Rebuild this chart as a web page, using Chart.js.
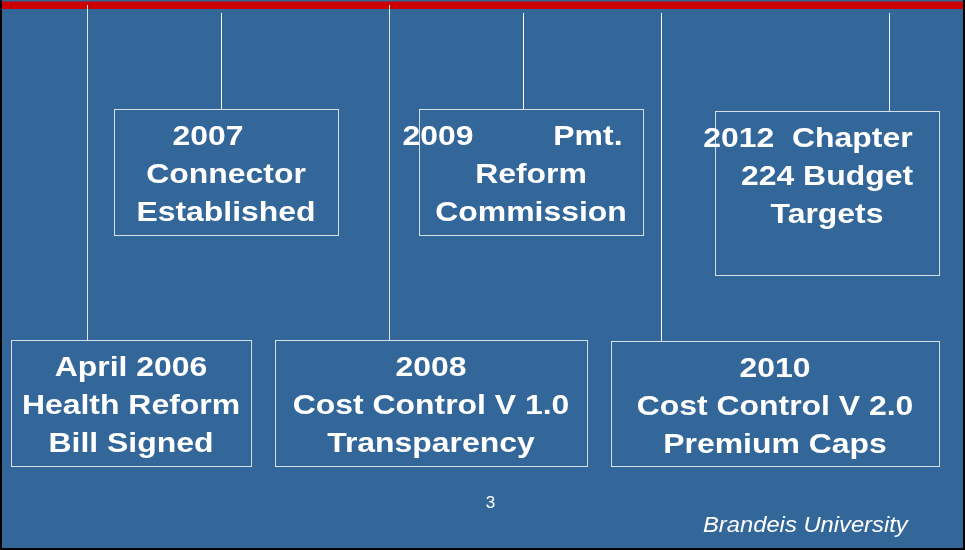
<!DOCTYPE html>
<html>
<head>
<meta charset="utf-8">
<script src="https://cdn.jsdelivr.net/npm/chart.js@4.4.1/dist/chart.umd.min.js"></script>
<style>
  html, body { margin: 0; padding: 0; background: #000; }
  #wrap { width: 965px; height: 550px; }
</style>
</head>
<body>
<div id="wrap"><canvas id="slide" width="965" height="550"></canvas></div>
<script>
// Timeline events (text of each box)
const years = ['April 2006', '2007', '2008', '2009', '2010', '2012'];
const firstLines = ['April 2006', '2007', '2008', '2009         Pmt.', '2010', '2012  Chapter'];
const secondLines = ['Health Reform', 'Connector', 'Cost Control V 1.0', 'Reform', 'Cost Control V 2.0', '224 Budget'];
const thirdLines = ['Bill Signed', 'Established', 'Transparency', 'Commission', 'Premium Caps', 'Targets'];
const pageNumber = '3';
const footer = 'Brandeis University';

// layout of the slide, in scale units (1 unit = 1 px)
const boxes = [
  { x0: 11,  x1: 251, y0: 340, y1: 466, stem: 87,  stemTop: 5,  shift: 0 },
  { x0: 114, x1: 338, y0: 109, y1: 235, stem: 221, stemTop: 13, shift: -18 },
  { x0: 275, x1: 587, y0: 340, y1: 466, stem: 389, stemTop: 5,  shift: 0 },
  { x0: 419, x1: 643, y0: 109, y1: 235, stem: 523, stemTop: 13, shift: -18.5 },
  { x0: 611, x1: 939, y0: 341, y1: 466, stem: 661, stemTop: 13, shift: 0 },
  { x0: 715, x1: 939, y0: 111, y1: 275, stem: 889, stemTop: 13, shift: -19 },
];
const stemColors = ['#dde4ec', '#ffffff', '#dde4ec', '#ffffff', '#ffffff', 'rgba(255,255,255,0.6)'];

const BLUE = '#336699';
const RED = '#cc0000';
const FONT = '"Liberation Sans", Arial, sans-serif';

function stretchedText(ctx, str, cx, base, size, style, stretch, align) {
  ctx.save();
  ctx.translate(cx, base);
  ctx.scale(stretch, 1);
  ctx.font = `${style} ${size}px ${FONT}`;
  ctx.textAlign = align || 'center';
  ctx.textBaseline = 'alphabetic';
  ctx.fillStyle = '#ffffff';
  ctx.fillText(str, 0, 0);
  ctx.restore();
}

const slidePlugin = {
  id: 'slide',
  beforeDraw(chart) {
    const { ctx, scales: { x, y } } = chart;
    const px = v => x.getPixelForValue(v);
    const py = v => y.getPixelForValue(v);
    ctx.save();
    ctx.fillStyle = '#000';
    ctx.fillRect(0, 0, chart.width, chart.height);
    ctx.fillStyle = BLUE;
    ctx.fillRect(px(2), py(0), px(963) - px(2), py(548) - py(0));
    ctx.fillStyle = RED;
    ctx.fillRect(px(2), py(1.5), px(963) - px(2), py(9) - py(1.5));
    ctx.restore();
  },
  afterDatasetsDraw(chart) {
    const { ctx, scales: { x, y } } = chart;
    const px = v => x.getPixelForValue(v);
    const py = v => y.getPixelForValue(v);
    boxes.forEach((b, i) => {
      ctx.save();
      ctx.strokeStyle = 'rgba(255,255,255,0.8)';
      ctx.lineWidth = 1;
      ctx.strokeRect(px(b.x0) + 0.5, py(b.y0) + 0.5, px(b.x1) - px(b.x0), py(b.y1) - py(b.y0));
      ctx.restore();
      const cx = (px(b.x0) + px(b.x1)) / 2;
      const base = py(b.y0 + 36);
      const lines = [firstLines[i], secondLines[i], thirdLines[i]];
      lines.forEach((t, k) => {
        stretchedText(ctx, t, cx + (k === 0 ? b.shift : 0), base + k * 38, 28.5, 'bold', 1.12);
      });
    });
    ctx.save();
    ctx.font = `17px ${FONT}`;
    ctx.fillStyle = '#ffffff';
    ctx.textAlign = 'center';
    ctx.fillText(pageNumber, px(490.5), py(507.5));
    ctx.restore();
    stretchedText(ctx, footer, px(703), py(531.5), 22, 'italic', 1.08, 'left');
  },
};

new Chart(document.getElementById('slide'), {
  type: 'scatter',
  data: {
    datasets: boxes.map((b, i) => ({
      label: years[i],
      data: [{ x: b.stem + 0.5, y: b.stemTop }, { x: b.stem + 0.5, y: b.y0 }],
      showLine: true,
      borderColor: stemColors[i],
      borderWidth: 1,
      pointRadius: 0,
      clip: false,
    })),
  },
  options: {
    responsive: false,
    animation: false,
    events: [],
    layout: { padding: 0 },
    plugins: { legend: { display: false }, tooltip: { enabled: false } },
    scales: {
      x: { type: 'linear', min: 0, max: 965, display: false },
      y: { type: 'linear', min: 0, max: 550, reverse: true, display: false },
    },
  },
  plugins: [slidePlugin],
});
</script>
</body>
</html>
